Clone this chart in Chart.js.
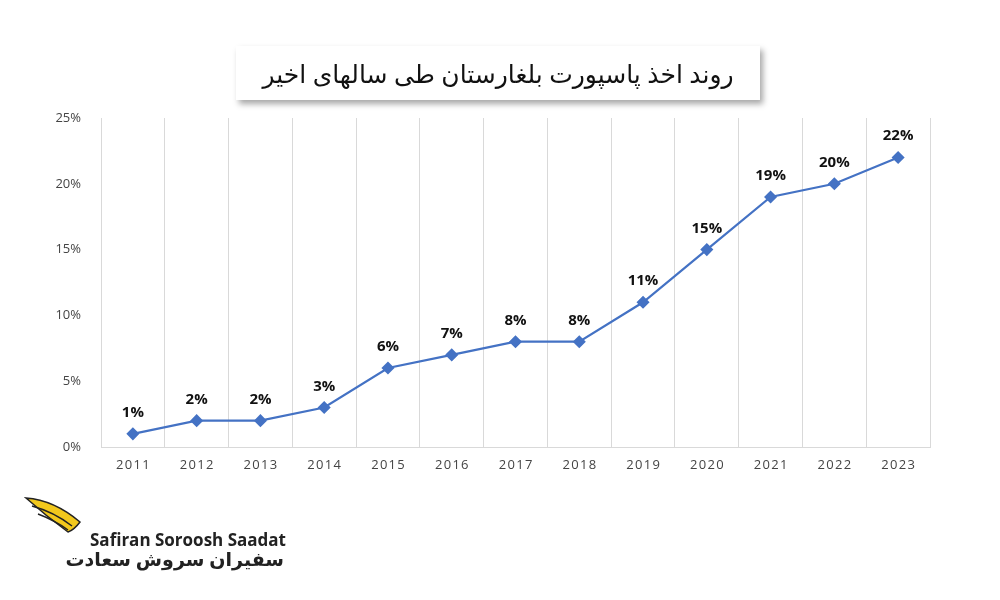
<!DOCTYPE html>
<html>
<head>
<meta charset="utf-8">
<script src="https://cdn.jsdelivr.net/npm/chart.js@4.4.0/dist/chart.umd.min.js"></script>
<style>
  body { margin: 0; background: #fff; font-family: "Open Sans", sans-serif; }
  #wrap { position: relative; width: 1000px; height: 600px; }
  #chart { position: absolute; left: 0; top: 0; }
  .title { position: absolute; left: 236px; top: 46px; width: 524px; height: 54px; background: #fff;
    box-shadow: 3px 4px 6px rgba(0,0,0,0.35); text-align: center; line-height: 54px;
    font-family: "Noto Sans", "DejaVu Sans", sans-serif; font-size: 25px; font-weight: 500; color: #111; direction: rtl; }
  .logo-en { position: absolute; left: 90px; top: 528px; font-family: "Open Sans", sans-serif; font-weight: 700;
    font-size: 17px; color: #222; white-space: nowrap; }
  .logo-fa { position: absolute; left: 92px; top: 546px; width: 192px; text-align: right; direction: rtl;
    font-family: "Noto Sans", "DejaVu Sans", sans-serif; font-weight: 700; font-size: 19px; color: #222; white-space: nowrap; }
  .wing { position: absolute; left: 24px; top: 496px; width: 60px; height: 40px; }
</style>
</head>
<body>
<div id="wrap">
  <canvas id="chart" width="1000" height="600"></canvas>
  <div class="title">روند اخذ پاسپورت بلغارستان طی سالهای اخیر</div>
  <svg class="wing" viewBox="0 0 60 40">
    <path d="M2 2 Q30 4 56 26 Q50 34 44 36 Q22 20 2 2 Z" fill="#f2c81c" stroke="#222" stroke-width="1.5"/>
    <path d="M8 10 Q30 16 48 30 M14 18 Q30 24 44 34" stroke="#222" stroke-width="1.5" fill="none"/>
  </svg>
  <div class="logo-en">Safiran Soroosh Saadat</div>
  <div class="logo-fa">سفیران سروش سعادت</div>
</div>
<script>
const years = ["2011","2012","2013","2014","2015","2016","2017","2018","2019","2020","2021","2022","2023"];
const passportRate = [1, 2, 2, 3, 6, 7, 8, 8, 11, 15, 19, 20, 22];
const yTicks = [0, 5, 10, 15, 20, 25];

const pointLabels = {
  id: "pointLabels",
  afterDatasetsDraw(chart) {
    const ctx = chart.ctx;
    const meta = chart.getDatasetMeta(0);
    ctx.save();
    ctx.font = "bold 15px 'Open Sans', sans-serif";
    ctx.fillStyle = "#111";
    ctx.textAlign = "center";
    meta.data.forEach((pt, i) => {
      ctx.fillText(passportRate[i] + "%", pt.x, pt.y - 17);
    });
    ctx.restore();
  }
};

new Chart(document.getElementById("chart").getContext("2d"), {
  type: "line",
  data: {
    labels: years,
    datasets: [{
      data: passportRate,
      borderColor: "#4472C4",
      backgroundColor: "#4472C4",
      borderWidth: 2.2,
      pointStyle: "rectRot",
      pointRadius: 5,
      tension: 0
    }]
  },
  options: {
    responsive: false,
    animation: false,
    layout: { padding: { left: 40, right: 70, top: 118, bottom: 113 } },
    plugins: { legend: { display: false }, tooltip: { enabled: false } },
    scales: {
      x: {
        offset: true,
        grid: { offset: true, color: "#d9d9d9", drawTicks: false },
        border: { color: "#d9d9d9" },
        ticks: { color: "#444", font: { size: 13, family: "Open Sans" }, padding: 10,
          callback: (v, i) => years[i].split("").join("\u200A") },
        afterFit: s => { s.height = 40; }
      },
      y: {
        min: 0, max: 25,
        afterBuildTicks: s => { s.ticks = yTicks.map(v => ({ value: v })); },
        grid: { display: false },
        border: { display: false },
        ticks: { color: "#444", font: { size: 13, family: "Open Sans" }, padding: 12,
          callback: v => v + "%" },
        afterFit: s => { s.width = 61; }
      }
    }
  },
  plugins: [pointLabels]
});
</script>
</body>
</html>
